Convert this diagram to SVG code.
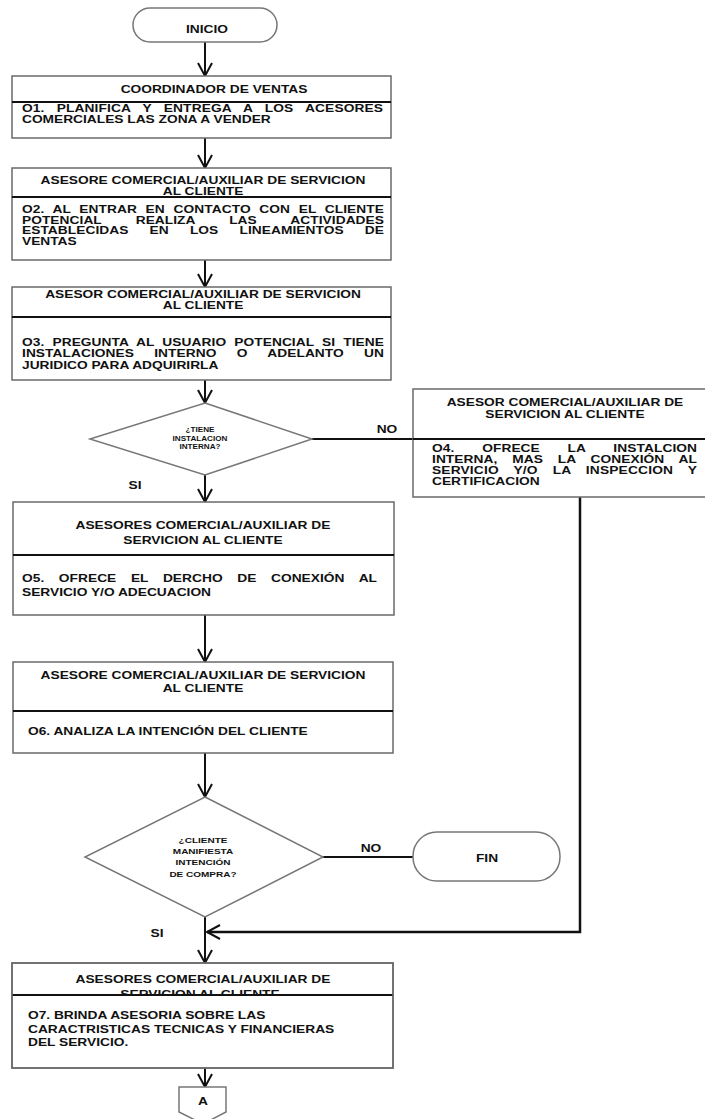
<svg xmlns="http://www.w3.org/2000/svg" width="705" height="1119" viewBox="0 0 705 1119">
<style>
.box{fill:#fff;stroke:#6a6a6a;stroke-width:1.5}
.dv{stroke:#111;stroke-width:2}
.term{fill:#fff;stroke:#777;stroke-width:1.5}
.dia{fill:#fff;stroke:#777;stroke-width:1.5}
.con{fill:none;stroke:#111;stroke-width:2}
.t{font-family:"Liberation Sans",Arial,sans-serif;font-weight:bold;font-size:11px;fill:#111}
.n{font-size:10.5px}
.c{text-anchor:middle}
.sm{font-size:8px}
.xs{font-size:6.5px}
</style>
<defs>
<marker id="ah" markerUnits="userSpaceOnUse" markerWidth="16" markerHeight="16" refX="13" refY="7" orient="auto" overflow="visible">
<path d="M0,0 L13,7 L0,14" fill="none" stroke="#111" stroke-width="2"/>
</marker>
</defs>
<rect width="705" height="1119" fill="#fff"/>

<g id="connectors">
<line class="con" x1="205" y1="42" x2="205" y2="76" marker-end="url(#ah)"/>
<line class="con" x1="205" y1="138" x2="205" y2="168" marker-end="url(#ah)"/>
<line class="con" x1="205" y1="260" x2="205" y2="287" marker-end="url(#ah)"/>
<line class="con" x1="205" y1="380" x2="205" y2="403" marker-end="url(#ah)"/>
<line class="con" x1="312" y1="439" x2="414" y2="439"/>
<line class="con" x1="205" y1="475" x2="205" y2="502" marker-end="url(#ah)"/>
<line class="con" x1="205" y1="615" x2="205" y2="662" marker-end="url(#ah)"/>
<line class="con" x1="205" y1="753" x2="205" y2="797" marker-end="url(#ah)"/>
<line class="con" x1="323" y1="857" x2="413" y2="857"/>
<polyline class="con" style="stroke-width:2.5" points="580,497 580,932 207,932" marker-end="url(#ah)"/>
<line class="con" x1="205" y1="917" x2="205" y2="963" marker-end="url(#ah)"/>
<line class="con" x1="205" y1="1068" x2="205" y2="1087" marker-end="url(#ah)"/>
<text class="t c" transform="scale(1.25 1)" x="309.6" y="433" font-size="10">NO</text>
<text class="t c" transform="scale(1.25 1)" x="108" y="489" font-size="10">SI</text>
<text class="t c" transform="scale(1.25 1)" x="296.8" y="852" font-size="10">NO</text>
<text class="t c" transform="scale(1.25 1)" x="125.6" y="937" font-size="10">SI</text>
</g>

<g id="inicio">
<rect class="term" x="133" y="8" width="144" height="34" rx="17"/>
<text class="t c" transform="scale(1.25 1)" x="165.6" y="33" font-size="10">INICIO</text>
</g>

<g id="box1">
<rect class="box" x="12" y="76" width="379" height="62"/>
<line class="dv" x1="12" y1="102" x2="391" y2="102"/>
<g class="t" transform="scale(1.25 1)">
<text class="c" x="171.2" y="93">COORDINADOR DE VENTAS</text>
<text x="17.6" y="112" word-spacing="6.6" textLength="288.8" lengthAdjust="spacing">O1. PLANIFICA Y ENTREGA A LOS ACESORES</text>
<text x="17.6" y="123">COMERCIALES LAS ZONA A VENDER</text>
</g>
</g>

<g id="box2">
<rect class="box" x="12" y="168" width="379" height="92"/>
<line class="dv" x1="12" y1="197" x2="391" y2="197"/>
<g class="t n" transform="scale(1.31 1)">
<text class="c" x="155" y="184.5">ASESORE COMERCIAL/AUXILIAR DE SERVICION</text>
<text class="c" x="155" y="195">AL CLIENTE</text>
<text x="16.8" y="213.5" word-spacing="3.6" textLength="276.3" lengthAdjust="spacing">O2. AL ENTRAR EN CONTACTO CON EL CLIENTE</text>
<text x="16.8" y="224" word-spacing="23.1" textLength="276.3" lengthAdjust="spacing">POTENCIAL REALIZA LAS ACTIVIDADES</text>
<text x="16.8" y="234.5" word-spacing="13.2" textLength="276.3" lengthAdjust="spacing">ESTABLECIDAS EN LOS LINEAMIENTOS DE</text>
<text x="16.8" y="245">VENTAS</text>
</g>
</g>

<g id="box3">
<rect class="box" x="12" y="287" width="379" height="93"/>
<line class="dv" x1="12" y1="317" x2="391" y2="317"/>
<g class="t n" transform="scale(1.31 1)">
<text class="c" x="155" y="298.5">ASESOR COMERCIAL/AUXILIAR DE SERVICION</text>
<text class="c" x="155" y="309">AL CLIENTE</text>
<text x="16.8" y="346" word-spacing="3.2" textLength="276.3" lengthAdjust="spacing">O3. PREGUNTA AL USUARIO POTENCIAL SI TIENE</text>
<text x="16.8" y="357.5" word-spacing="12.5" textLength="276.3" lengthAdjust="spacing">INSTALACIONES INTERNO O ADELANTO UN</text>
<text x="16.8" y="369">JURIDICO PARA ADQUIRIRLA</text>
</g>
</g>

<g id="decision1">
<polygon class="dia" points="205,403 312,439 205,475 90,439"/>
<g class="t xs c" transform="scale(1.25 1)">
<text x="160" y="432.5">¿TIENE</text>
<text x="160" y="441">INSTALACION</text>
<text x="160" y="449.5">INTERNA?</text>
</g>
</g>

<g id="box4">
<rect class="box" x="413" y="389" width="300" height="108"/>
<line class="dv" x1="413" y1="439" x2="705" y2="439"/>
<g class="t n" transform="scale(1.31 1)">
<text class="c" x="431.3" y="406.5">ASESOR COMERCIAL/AUXILIAR DE</text>
<text class="c" x="431.3" y="418">SERVICION AL CLIENTE</text>
</g>
<g class="t" transform="scale(1.25 1)">
<text x="345.6" y="452" word-spacing="19.1" textLength="212" lengthAdjust="spacing">O4. OFRECE LA INSTALCION</text>
<text x="345.6" y="463" word-spacing="8.8" textLength="212" lengthAdjust="spacing">INTERNA, MAS LA CONEXIÓN AL</text>
<text x="345.6" y="474" word-spacing="8.8" textLength="212" lengthAdjust="spacing">SERVICIO Y/O LA INSPECCION Y</text>
<text x="345.6" y="485">CERTIFICACION</text>
</g>
</g>

<g id="box5">
<rect class="box" x="13" y="502" width="381" height="113"/>
<line class="dv" x1="13" y1="555" x2="394" y2="555"/>
<g class="t" transform="scale(1.25 1)">
<text class="c" x="162.4" y="529">ASESORES COMERCIAL/AUXILIAR DE</text>
<text class="c" x="162.4" y="544">SERVICION AL CLIENTE</text>
<text x="17.6" y="582" word-spacing="8.6" textLength="284" lengthAdjust="spacing">O5. OFRECE EL DERCHO DE CONEXIÓN AL</text>
<text x="17.6" y="596">SERVICIO Y/O ADECUACION</text>
</g>
</g>

<g id="box6">
<rect class="box" x="13" y="662" width="380" height="91"/>
<line class="dv" x1="13" y1="711" x2="393" y2="711"/>
<g class="t" transform="scale(1.25 1)">
<text class="c" x="162.4" y="679">ASESORE COMERCIAL/AUXILIAR DE SERVICION</text>
<text class="c" x="162.4" y="692">AL CLIENTE</text>
<text x="22.4" y="735">O6. ANALIZA LA INTENCIÓN DEL CLIENTE</text>
</g>
</g>

<g id="decision2">
<polygon class="dia" points="205,797 323,857 205,917 85,857"/>
<g class="t sm c" transform="scale(1.25 1)">
<text x="162.4" y="843">¿CLIENTE</text>
<text x="162.4" y="854">MANIFIESTA</text>
<text x="162.4" y="865">INTENCIÓN</text>
<text x="162.4" y="877">DE COMPRA?</text>
</g>
</g>

<g id="fin">
<rect class="term" x="413" y="832" width="147" height="49" rx="24"/>
<text class="t c" transform="scale(1.25 1)" x="389.6" y="862">FIN</text>
</g>

<g id="box7">
<rect class="box" x="12" y="963" width="381" height="105"/>
<g class="t" transform="scale(1.25 1)">
<text class="c" x="162.4" y="983">ASESORES COMERCIAL/AUXILIAR DE</text>
<text class="c" x="160" y="998.5">SERVICION AL CLIENTE</text>
</g>
<rect x="13" y="995" width="379" height="72" fill="#fff"/>
<line class="dv" x1="12" y1="995" x2="393" y2="995"/>
<rect x="12" y="963" width="381" height="105" fill="none" stroke="#6a6a6a" stroke-width="1.5"/>
<g class="t" transform="scale(1.25 1)">
<text x="22.4" y="1019">O7. BRINDA ASESORIA SOBRE  LAS</text>
<text x="22.4" y="1033">CARACTRISTICAS TECNICAS Y FINANCIERAS</text>
<text x="22.4" y="1046">DEL SERVICIO.</text>
</g>
</g>

<g id="connector-a">
<polygon class="term" points="179,1087 226,1087 226,1112 203,1124 179,1112"/>
<text class="t c" transform="scale(1.25 1)" x="162.4" y="1105" font-size="9">A</text>
</g>
</svg>
